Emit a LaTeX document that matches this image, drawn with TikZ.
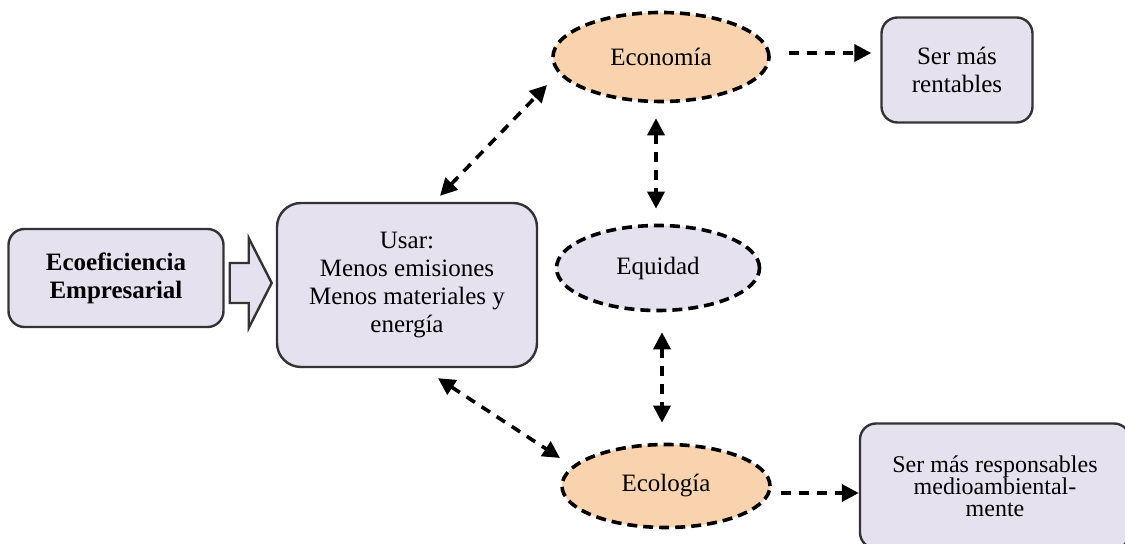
\documentclass[tikz,border=0pt]{standalone}
\usepackage{fontspec}
\setmainfont{Liberation Serif}
\usetikzlibrary{arrows.meta,shapes.geometric,calc}
\definecolor{lav}{HTML}{E5E1EE}
\definecolor{peach}{HTML}{F9D3AE}
\definecolor{edge}{HTML}{333333}
\begin{document}
\begin{tikzpicture}[x=0.5pt,y=-0.5pt,
  box/.style={draw=edge,line width=1.2pt,fill=lav,rounded corners=8pt,inner sep=0pt,align=center,font=\fontsize{12.5}{14}\selectfont},
  oval/.style={ellipse,draw=black,line width=1.8pt,dash pattern=on 5pt off 3pt,inner sep=0pt,font=\fontsize{12.5}{14}\selectfont},
  darrow/.style={line width=1.8pt,dash pattern=on 5pt off 4pt,{Triangle[length=8.5pt,width=8.5pt]}-{Triangle[length=8.5pt,width=8.5pt]}},
  sarrow/.style={line width=1.8pt,dash pattern=on 5pt off 4pt,-{Triangle[length=8.5pt,width=8.5pt]}},
  blockarrow/.style={draw=edge,line width=1.2pt,fill=lav}
]
\useasboundingbox (0,0) rectangle (1125,544);
\clip (0,0) rectangle (1125,544);
\node[box,minimum width=107.5pt,minimum height=49pt,font=\bfseries\fontsize{12.5}{14}\selectfont] (ecoef) at (116,278) {Ecoeficiencia\\Empresarial};
\node[box,rounded corners=12pt,minimum width=130pt,minimum height=82pt] (usar) at (407,285) {Usar:\\Menos emisiones\\Menos materiales y\\energía};
\node[box,minimum width=75.5pt,minimum height=52.5pt] (rent) at (957,70) {Ser más\\rentables};
\node[box,minimum width=135pt,minimum height=62.5pt,font=\fontsize{12}{11}\selectfont] (resp) at (995,486) {Ser más responsables\\medioambiental-\\mente};
\node[oval,fill=peach,minimum width=108pt,minimum height=44.5pt] (econ) at (661,57) {Economía};
\node[oval,fill=lav,minimum width=101.5pt,minimum height=42.5pt] (equi) at (658,268) {Equidad};
\node[oval,fill=peach,minimum width=104pt,minimum height=41.5pt] (ecol) at (666,486) {Ecología};
\draw[blockarrow] ($(ecoef.east)+(5,-15)$) -- ++(19,0) -- ++(0,-25) -- ++(23,45) -- ++(-23,45) -- ++(0,-25) -- ++(-19,0) -- cycle;
\draw[darrow] ($(usar.north)+(33,-6)$) -- ($(econ.center)+(-114,28)$);
\draw[darrow] ($(usar.south)+(31,10)$) -- ($(ecol.center)+(-106,-28)$);
\draw[darrow] ($(econ.south)+(-5,15)$) -- ($(equi.north)+(-2,-15)$);
\draw[darrow] ($(equi.south)+(4,20)$) -- ($(ecol.north)+(-4,-20)$);
\draw[sarrow] ($(econ.east)+(18,-4)$) -- ($(rent.west)+(-9,-17)$);
\draw[sarrow] ($(ecol.east)+(9,7)$) -- ($(resp.west)+(0,7)$);
\end{tikzpicture}
\end{document}
